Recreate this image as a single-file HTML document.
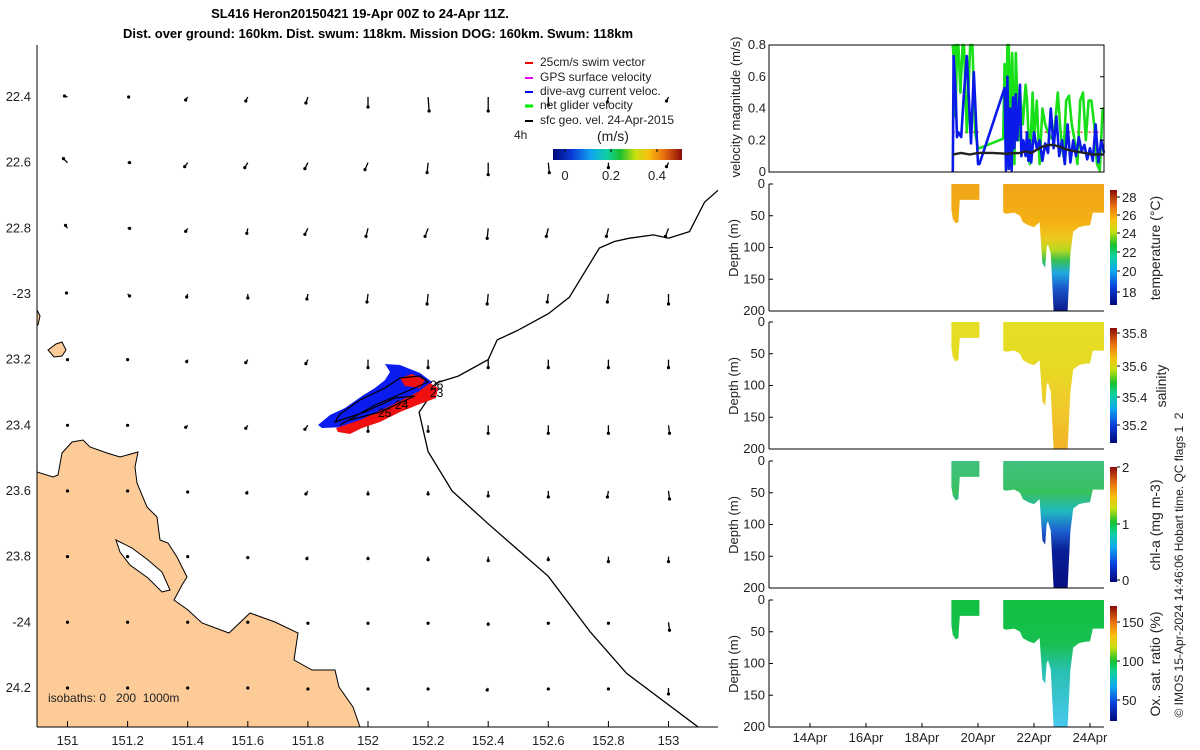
<!DOCTYPE html>
<html><head><meta charset="utf-8"><style>
html,body{margin:0;padding:0;background:#fff;}
svg{display:block;font-family:"Liberation Sans","DejaVu Sans",sans-serif;}
</style></head><body>
<svg id="fig" width="1200" height="750" viewBox="0 0 1200 750" xmlns="http://www.w3.org/2000/svg">
<defs>
<clipPath id="mapClip"><rect x="37" y="45" width="681" height="682"/></clipPath>
<linearGradient id="jetV" x1="0" y1="1" x2="0" y2="0">
<stop offset="0" stop-color="#00087a"/><stop offset="0.15" stop-color="#0a3cd8"/><stop offset="0.3" stop-color="#10a8f0"/><stop offset="0.42" stop-color="#10d0a0"/><stop offset="0.52" stop-color="#18c030"/><stop offset="0.64" stop-color="#c8e010"/><stop offset="0.74" stop-color="#f8c010"/><stop offset="0.86" stop-color="#e87010"/><stop offset="1" stop-color="#8a0a08"/>
</linearGradient>
<linearGradient id="jetH" x1="0" y1="0" x2="1" y2="0">
<stop offset="0" stop-color="#00087a"/><stop offset="0.15" stop-color="#0a3cd8"/><stop offset="0.3" stop-color="#10a8f0"/><stop offset="0.42" stop-color="#10d0a0"/><stop offset="0.52" stop-color="#18c030"/><stop offset="0.64" stop-color="#c8e010"/><stop offset="0.74" stop-color="#f8c010"/><stop offset="0.86" stop-color="#e87010"/><stop offset="1" stop-color="#8a0a08"/>
</linearGradient>
<linearGradient id="gTemp" gradientUnits="userSpaceOnUse" x1="0" y1="184" x2="0" y2="311">
<stop offset="0" stop-color="#f0a418"/><stop offset="0.3" stop-color="#f4b014"/><stop offset="0.42" stop-color="#f0c81c"/><stop offset="0.52" stop-color="#b8d820"/><stop offset="0.6" stop-color="#38c050"/><stop offset="0.7" stop-color="#20a8e0"/><stop offset="0.82" stop-color="#1a58cc"/><stop offset="1" stop-color="#0a1a88"/>
</linearGradient>
<linearGradient id="gSal" gradientUnits="userSpaceOnUse" x1="0" y1="322" x2="0" y2="449">
<stop offset="0" stop-color="#e4e024"/><stop offset="0.4" stop-color="#e8d824"/><stop offset="0.7" stop-color="#f0c82c"/><stop offset="1" stop-color="#f2b428"/>
</linearGradient>
<linearGradient id="gChl" gradientUnits="userSpaceOnUse" x1="0" y1="461" x2="0" y2="588">
<stop offset="0" stop-color="#40c080"/><stop offset="0.25" stop-color="#38c060"/><stop offset="0.4" stop-color="#20b8c0"/><stop offset="0.55" stop-color="#1e60d0"/><stop offset="0.7" stop-color="#0a2098"/><stop offset="1" stop-color="#060f80"/>
</linearGradient>
<linearGradient id="gOx" gradientUnits="userSpaceOnUse" x1="0" y1="600" x2="0" y2="727">
<stop offset="0" stop-color="#10c040"/><stop offset="0.35" stop-color="#18c050"/><stop offset="0.55" stop-color="#28c0b0"/><stop offset="1" stop-color="#48c8f0"/>
</linearGradient>
</defs>

<g font-weight="bold" font-size="13" text-anchor="middle">
<text x="360" y="18">SL416 Heron20150421 19-Apr 00Z to 24-Apr 11Z.</text>
<text x="378" y="38">Dist. over ground: 160km. Dist. swum: 118km. Mission DOG: 160km. Swum: 118km</text>
</g>

<g id="map">
<g clip-path="url(#mapClip)">
<path fill="#fccb98" stroke="#000" stroke-width="1" d="M37,727 L37,472 L53,477 L58,475 L62,453 L72,442 L83,440 L90,447 L107,453 L120,457 L138,452 L135,467 L137,483 L147,507 L157,517 L160,540 L168,543 L177,557 L187,577 L182,585 L174,600 L188,610 L202,623 L229,633 L250,613 L275,622 L298,633 L294,660 L312,670 L335,670 L339,687 L353,707 L360,727 Z"/>
<path fill="#fff" stroke="#000" stroke-width="1" d="M116,540 L132,548 L148,560 L162,572 L170,590 L162,592 L148,578 L130,565 L120,552 Z"/>
<path fill="#fccb98" stroke="#000" stroke-width="1" d="M48,350 L56,344 L62,342 L66,350 L62,356 L54,357 Z"/>
<path fill="#fccb98" stroke="#000" stroke-width="1" d="M37,310 L40,316 L38,325 L37,325 Z"/>
<g id="arrows"></g>
<polyline id="isobath" fill="none" stroke="#000" stroke-width="1.3"/>
<g>
<path fill="#0a1cf0" d="M318,425 L330,415 L345,408 L362,396 L375,388 L385,380 L390,372 L385,364 L400,365 L420,373 L432,382 L426,396 L408,402 L385,410 L365,420 L345,427 L322,428 Z"/>
<path fill="#f01010" d="M336,428 L360,420 L390,406 L418,392 L430,383 L438,388 L436,398 L420,404 L400,412 L380,422 L362,428 L350,434 L338,432 Z"/>
<path fill="#f01010" d="M400,378 L412,374 L425,380 L420,388 L405,386 Z"/>
<path fill="none" stroke="#000" stroke-width="1.2" d="M340,425 L375,405 L410,390 L428,382 L420,376 L400,378 L385,388 L360,400 L340,414 L335,422 L365,412 L395,398 L415,396 L380,412 L350,420"/>
<text x="430" y="389" font-size="12">26</text>
<text x="430" y="397" font-size="12">23</text>
<text x="395" y="409" font-size="12">24</text>
<text x="378" y="417" font-size="12">25</text>
</g>
</g>
<line x1="37" y1="45" x2="37" y2="727" stroke="#000"/>
<line x1="37" y1="727" x2="718" y2="727" stroke="#000"/>
<g id="mapTicks" font-size="13" fill="#222"></g>
<text x="48" y="702" font-size="12" fill="#222" xml:space="preserve">isobaths: 0   200  1000m</text>
<g font-size="12" fill="#222">
<g><line x1="525" y1="63" x2="533" y2="63" stroke="#e00" stroke-width="2"/><text x="540" y="66">25cm/s swim vector</text></g>
<g><line x1="525" y1="78" x2="533" y2="78" stroke="#e0e" stroke-width="2"/><text x="540" y="81">GPS surface velocity</text></g>
<g><line x1="525" y1="92" x2="533" y2="92" stroke="#00f" stroke-width="2"/><text x="540" y="95">dive-avg current veloc.</text></g>
<g><line x1="525" y1="106" x2="533" y2="106" stroke="#0e0" stroke-width="3"/><text x="540" y="109">net glider velocity</text></g>
<g><line x1="525" y1="121" x2="533" y2="121" stroke="#000" stroke-width="2"/><text x="540" y="124">sfc geo. vel. 24-Apr-2015</text></g>
<text x="514" y="139" font-size="12">4h</text>
<text x="597" y="141" font-size="14">(m/s)</text>
<rect x="553" y="149" width="129" height="11" fill="url(#jetH)"/>
<g stroke="#000"><line x1="565" y1="149" x2="565" y2="152"/><line x1="611" y1="149" x2="611" y2="152"/><line x1="657" y1="149" x2="657" y2="152"/></g>
<text x="565" y="180" text-anchor="middle" font-size="13">0</text>
<text x="611" y="180" text-anchor="middle" font-size="13">0.2</text>
<text x="657" y="180" text-anchor="middle" font-size="13">0.4</text>
</g>
</g>

<g id="right" font-size="12" fill="#222"></g>
<text transform="translate(1183,565) rotate(-90)" text-anchor="middle" font-size="12" fill="#222" xml:space="preserve">© IMOS 15-Apr-2024 14:46:06 Hobart time. QC flags 1  2</text>
</svg>
<script>
const NS='http://www.w3.org/2000/svg';
function mk(tag,attrs,parent){const e=document.createElementNS(NS,tag);for(const k in attrs)e.setAttribute(k,attrs[k]);parent.appendChild(e);return e;}

// ---------- MAP DATA ----------
const lonTicks=[151,151.2,151.4,151.6,151.8,152,152.2,152.4,152.6,152.8,153];
const lonTickLabels=['151','151.2','151.4','151.6','151.8','152','152.2','152.4','152.6','152.8','153'];
const latTicks=[22.4,22.6,22.8,23,23.2,23.4,23.6,23.8,24,24.2];
const latTickLabels=['22.4','22.6','22.8','-23','23.2','23.4','23.6','23.8','-24','24.2'];
const gridLons=[151,151.2,151.4,151.6,151.8,152,152.2,152.4,152.6,152.8,153];
const gridLats=[22.4,22.6,22.8,23,23.2,23.4,23.6,23.8,24,24.2];
const geoU=[
[-0.03,0.01,-0.02,-0.02,-0.02,0,0.01,0,0,-0.01,-0.02],
[-0.04,0.02,-0.03,-0.03,-0.03,-0.03,-0.01,0,0.01,0,-0.02],
[-0.02,0.02,-0.02,-0.01,-0.03,-0.02,-0.03,-0.01,-0.02,-0.02,-0.03],
[-0.01,0.02,-0.01,0,-0.01,-0.01,-0.01,-0.01,-0.01,-0.01,0],
[0,0,-0.01,-0.02,-0.02,0,0,0,0,0,0],
[0,0,-0.02,-0.02,-0.03,0,0,0,0,0,0.01],
[0,0,0,-0.01,-0.02,0,0,0,0,-0.01,0.01],
[0,0,0,0,-0.01,0,0,0,0,0,0],
[0,0,0,0,0,0,0,0,0,0,0.01],
[0,0,0,0,0,0,0,-0.01,0,0,0]];
const geoV=[
[-0.01,0,0.03,0.04,0.06,0.1,0.14,0.14,0.08,0.05,0.04],
[-0.04,0,0.04,0.05,0.06,0.07,0.1,0.12,0.1,0.05,0.04],
[-0.03,0,0.03,0.05,0.06,0.08,0.08,0.1,0.08,0.08,0.08],
[-0.01,0.02,0.03,0.04,0.05,0.08,0.1,0.1,0.08,0.08,0.1],
[0,0,0.02,0.03,0.04,0.08,0.08,0.08,0.08,0.08,0.08],
[0,0,0.02,0.03,0.04,0.06,0.06,0.08,0.08,0.08,0.08],
[0,0,0.01,0.02,0.03,0.03,0.03,0.05,0.06,0.06,0.08],
[0,0,0,0.01,0.02,0.02,0.03,0.04,0.03,0.05,0.05],
[0,0,0,0,0.01,0.01,0.01,0.02,0.01,0.01,0.08],
[0,0,0,0,0.01,0.01,0.01,0.02,0.01,0.01,0.06]];
const isoLons=[153.17,153.12,153.07,153.0,152.95,152.87,152.82,152.77,152.67,152.6,152.5,152.43,152.4,152.3,152.23,152.2,152.17,152.2,152.28,152.4,152.5,152.6,152.74,152.86,153.1,153.2];
const isoLats=[22.68,22.72,22.81,22.83,22.82,22.83,22.84,22.86,23.01,23.06,23.11,23.14,23.2,23.25,23.27,23.32,23.36,23.48,23.6,23.7,23.78,23.86,24.03,24.155,24.32,24.38];

function xLon(l){return 368+(l-152)*300.5;}
function yLat(l){return 97+(l-22.4)*328.3;}
const ARROW=100;

const arrowsG=document.getElementById('arrows');
for(let r=0;r<gridLats.length;r++){for(let c=0;c<gridLons.length;c++){
  const x0=xLon(gridLons[c]),y0=yLat(gridLats[r]);
  const x1=x0+geoU[r][c]*ARROW,y1=y0+geoV[r][c]*ARROW;
  const g=mk('g',{},arrowsG);
  
  
  mk('line',{x1:x0,y1:y0,x2:x1,y2:y1,stroke:'#000','stroke-width':1.3},g);
  mk('circle',{cx:x1,cy:y1,r:1.6,fill:'#000'},g);
}}
document.getElementById('isobath').setAttribute('points',isoLons.map((l,i)=>xLon(l).toFixed(1)+','+yLat(isoLats[i]).toFixed(1)).join(' '));

const mt=document.getElementById('mapTicks');
lonTicks.forEach((l,i)=>{const x=xLon(l);
  const t=mk('line',{x1:x,y1:727,x2:x,y2:721,stroke:'#000'},mt);
  
  
  const tx=mk('text',{x:x,y:745,'text-anchor':'middle'},mt);tx.textContent=lonTickLabels[i];
  
  
});
latTicks.forEach((l,i)=>{const y=yLat(l);
  const tx=mk('text',{x:31,y:y+4,'text-anchor':'end'},mt);tx.textContent=latTickLabels[i];
  
  
});

// ---------- TIME SERIES DATA ----------
const dateTicks=[14,16,18,20,22,24];
const dateLabels=['14Apr','16Apr','18Apr','20Apr','22Apr','24Apr'];
const velTicks=[0,0.2,0.4,0.6,0.8];
const velTickLabels=['0','0.2','0.4','0.6','0.8'];
const greenT=[19.1,19.13,19.17,19.2,19.25,19.3,19.37,19.45,19.5,19.6,19.72,19.8,19.9,20.0,20.05,20.9,20.95,21.0,21.05,21.1,21.15,21.22,21.3,21.35,21.45,21.5,21.6,21.7,21.75,21.85,21.95,22.0,22.1,22.2,22.3,22.4,22.5,22.6,22.7,22.85,22.95,23.05,23.15,23.25,23.35,23.45,23.55,23.65,23.75,23.85,23.95,24.05,24.15,24.25,24.35,24.45,24.5];
const greenV=[0.8,0.72,0.8,0.35,0.8,0.8,0.5,0.8,0.8,0.25,0.8,0.8,0.25,0.15,0.15,0.21,0.68,0.02,0.8,0.8,0.3,0.75,0.05,0.75,0.2,0.5,0.3,0.55,0.45,0.05,0.5,0.2,0.45,0.05,0.4,0.3,0.25,0.22,0.2,0.5,0.25,0.1,0.45,0.48,0.3,0.2,0.05,0.45,0.5,0.2,0.45,0.45,0.3,0.05,0.01,0.4,0.4];
const blueT=[19.1,19.13,19.2,19.25,19.3,19.4,19.5,19.6,19.75,19.85,20.0,20.05,20.95,21.0,21.05,21.1,21.15,21.2,21.25,21.3,21.35,21.4,21.5,21.55,21.62,21.7,21.75,21.8,21.85,21.9,22.0,22.1,22.2,22.3,22.4,22.5,22.6,22.7,22.8,22.9,23.0,23.1,23.2,23.3,23.4,23.5,23.6,23.7,23.8,23.9,24.0,24.1,24.2,24.3,24.4,24.5];
const blueV=[0,0.73,0.5,0.22,0.25,0.22,0.5,0.73,0.18,0.63,0.05,0.05,0.53,0.01,0.6,0.02,0.4,0.01,0.47,0.15,0.49,0.2,0.55,0.1,0.2,0.1,0.25,0.07,0.2,0.06,0.25,0.15,0.2,0.07,0.18,0.12,0.4,0.15,0.35,0.1,0.2,0.05,0.3,0.06,0.2,0.1,0.22,0.13,0.17,0.08,0.15,0.07,0.3,0.06,0.2,0.12];
const geoT=[19.1,19.4,19.7,20.0,20.5,21.0,21.5,21.7,21.9,22.1,22.3,22.5,22.7,22.9,23.2,23.5,23.8,24.1,24.5];
const geoVel=[0.11,0.12,0.11,0.12,0.12,0.115,0.12,0.13,0.12,0.14,0.16,0.17,0.17,0.16,0.14,0.13,0.12,0.11,0.11];
const swimT=[19.1,20.05,20.95,24.5];
const swimV=[0.25,0.25,0.25,0.25];
const seg1T=[19.05,19.1,19.2,19.3,19.35,19.5,20.05];
const seg1D=[40,55,62,60,25,25,25];
const seg2T=[20.9,21.0,21.3,21.5,21.6,21.8,22.0,22.2,22.3,22.4,22.45,22.5,22.6,22.7,22.8,23.0,23.2,23.3,23.4,23.6,23.8,24.0,24.1,24.3,24.5];
const seg2D=[45,47,45,50,60,65,68,60,125,132,100,95,110,200,205,205,200,110,75,68,66,65,45,45,45];

const PX0=769,PX1=1104,PH=127;
const panelTops=[45,184,322,461,600];
function xDate(d){return 810+(d-14)*28;}
const R=document.getElementById('right');

function axesBox(top,name){
  const g=mk('g',{},R);
  
  
  return g;
}
(function(){
  const top=panelTops[0],g=axesBox(top,'velocity-panel');
  const yV=v=>top+PH-v/0.8*PH;
  mk('rect',{x:PX0,y:top,width:PX1-PX0,height:PH,fill:'#fff',stroke:'#000','stroke-width':1},g);
  const line=(T,V,col,w,extra)=>mk('polyline',Object.assign({points:T.map((t,i)=>xDate(t).toFixed(1)+','+yV(V[i]).toFixed(1)).join(' '),fill:'none',stroke:col,'stroke-width':w,'stroke-linejoin':'round'},extra||{}),g);
  let p=line(swimT.slice(0,2),swimV.slice(0,2),'#f04040',1.5,{'stroke-dasharray':'2 2'});
  
  
  p=line(swimT.slice(2),swimV.slice(2),'#f04040',1.5,{'stroke-dasharray':'2 2'});
  
  
  p=line(greenT,greenV,'#18e018',2.6);
  
  
  p=line(blueT,blueV,'#0a1ae8',2.6);
  
  
  p=line(geoT,geoVel,'#222',2.4);
  
  
  mk('rect',{x:PX0,y:top,width:PX1-PX0,height:PH,fill:'none',stroke:'#000','stroke-width':1},g);
  velTicks.forEach((v,i)=>{const y=yV(v);
    const t=mk('text',{x:PX0-3,y:y+4,'text-anchor':'end','font-size':13},g);t.textContent=velTickLabels[i];
    
    
    mk('line',{x1:PX1,y1:y,x2:PX1-4,y2:y,stroke:'#000'},g);
  });
  const yt=mk('text',{transform:'translate(740,'+(top+62)+') rotate(-90)','text-anchor':'middle','font-size':13},g);yt.textContent='velocity magnitude (m/s)';
  
  
})();

const secNames=['temperature-panel','salinity-panel','chlorophyll-panel','oxygen-panel'];
const secFills=['url(#gTemp)','url(#gSal)','url(#gChl)','url(#gOx)'];
const secTitles=['temperature (°C)','salinity','chl-a (mg m-3)','Ox. sat. ratio (%)'];
const cbLabels=[['28','26','24','22','20','18'],['35.8','35.6','35.4','35.2'],['2','1','0'],['150','100','50']];
const cbLabelY=[[197,215,233,252,271,292],[333,366,397,425],[467,524,580],[622,661,700]];
const cbTops=[190,328,467,606];
const depthTicks=[0,50,100,150,200];
for(let k=0;k<4;k++){
  const top=panelTops[k+1],g=axesBox(top,secNames[k]);
  const yD=d=>top+Math.min(d,200)/200*PH;
  [[seg1T,seg1D],[seg2T,seg2D]].forEach(([T,D],si)=>{
    let pts=xDate(T[0]).toFixed(1)+','+top+' ';
    pts+=T.map((t,i)=>xDate(t).toFixed(1)+','+yD(D[i]).toFixed(1)).join(' ');
    pts+=' '+xDate(T[T.length-1]).toFixed(1)+','+top;
    const p=mk('polygon',{points:pts,fill:secFills[k]},g);
    
    
  });
  mk('line',{x1:PX0,y1:top,x2:PX0,y2:top+PH,stroke:'#000'},g);
  mk('line',{x1:PX0,y1:top+PH,x2:PX1,y2:top+PH,stroke:'#000'},g);
  depthTicks.forEach(d=>{const y=yD(d);
    mk('line',{x1:PX0,y1:y,x2:PX0+4,y2:y,stroke:'#000'},g);
    const t=mk('text',{x:PX0-4,y:y+4,'text-anchor':'end','font-size':13},g);t.textContent=String(d);
    
    
  });
  const yt=mk('text',{transform:'translate(738,'+(top+64)+') rotate(-90)','text-anchor':'middle','font-size':13},g);yt.textContent='Depth (m)';
  
  
  const cb=mk('rect',{x:1110,y:cbTops[k],width:7,height:115,fill:'url(#jetV)'},g);
  
  
  cbLabels[k].forEach((l,i)=>{
    mk('line',{x1:1117,y1:cbLabelY[k][i],x2:1120,y2:cbLabelY[k][i],stroke:'#000'},g);
    const t=mk('text',{x:1122,y:cbLabelY[k][i]+5,'font-size':13},g);t.textContent=l;
    
    
  });
  const ct=mk('text',{transform:'translate('+(k==1?1166:1160)+','+(top+64)+') rotate(-90)','text-anchor':'middle','font-size':14},g);ct.textContent=secTitles[k];
  
  
}
dateTicks.forEach((d,i)=>{const x=xDate(d);
  mk('line',{x1:x,y1:727,x2:x,y2:723,stroke:'#000'},R);
  const t=mk('text',{x:x,y:742,'text-anchor':'middle','font-size':13},R);t.textContent=dateLabels[i];
  
  
});
</script>
</body></html>
